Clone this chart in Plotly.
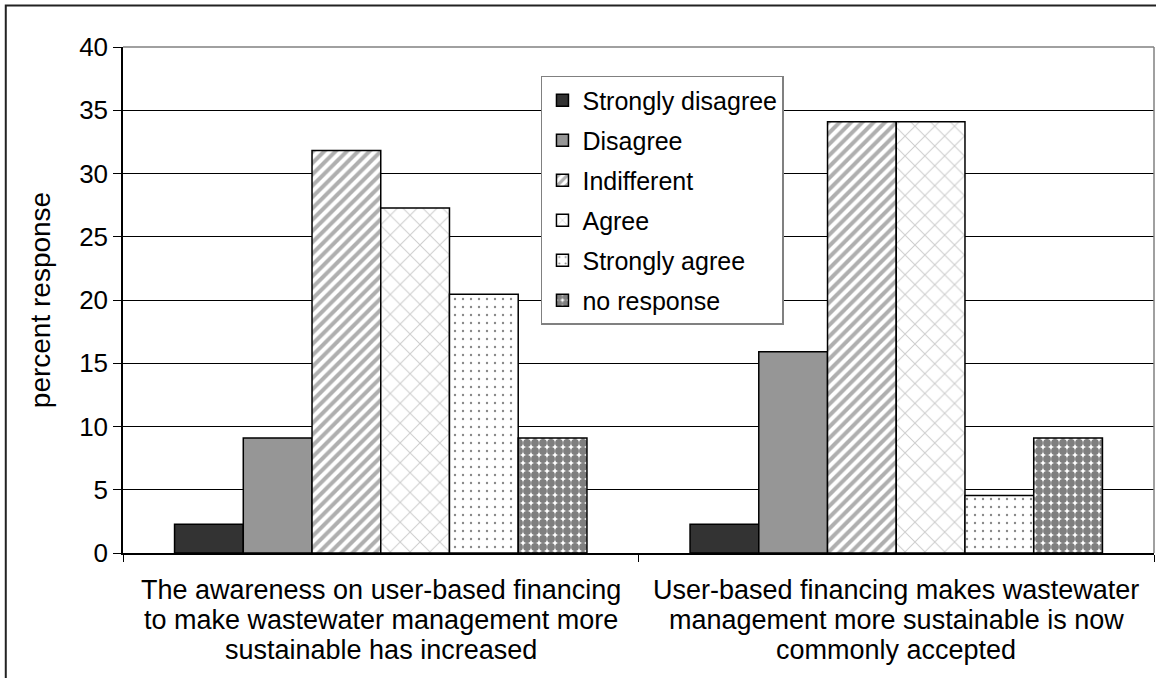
import plotly.graph_objects as go

# Survey statements (x categories) and the wrapped lines shown under each group
statements = [
    "The awareness on user-based financing to make wastewater management more sustainable has increased",
    "User-based financing makes wastewater management more sustainable is now commonly accepted",
]
statement_lines = [
    ["The awareness on user-based financing", "to make wastewater management more", "sustainable has increased"],
    ["User-based financing makes wastewater", "management more sustainable is now", "commonly accepted"],
]

# Percent response per answer option
strongly_disagree = [2.27, 2.27]
disagree = [9.09, 15.91]
indifferent = [31.82, 34.09]
agree = [27.27, 34.09]
strongly_agree = [20.45, 4.55]
no_response = [9.09, 9.09]

y_ticks = [0, 5, 10, 15, 20, 25, 30, 35, 40]

FONT = "Arial, Liberation Sans, sans-serif"

series = [
    ("Strongly disagree", strongly_disagree, dict(color="#333333")),
    ("Disagree", disagree, dict(color="#969696")),
    ("Indifferent", indifferent, dict(color="white",
        pattern=dict(shape="/", fgcolor="#5f5f5f", bgcolor="white", size=8, solidity=0.5))),
    ("Agree", agree, dict(color="white",
        pattern=dict(shape="x", fgcolor="#9a9a9a", bgcolor="white", size=14, solidity=0.14))),
    ("Strongly agree", strongly_agree, dict(color="white",
        pattern=dict(shape=".", fgcolor="#111111", bgcolor="white", size=8, solidity=0.07))),
    ("no response", no_response, dict(color="white",
        pattern=dict(shape=".", fgcolor="#000000", bgcolor="white", size=8, solidity=0.75))),
]

fig = go.Figure()
for i, (name, vals, marker) in enumerate(series):
    marker = dict(marker)
    marker["line"] = dict(color="black", width=1.5)
    fig.add_trace(go.Bar(name=name, x=statements, y=vals, marker=marker,
                         legendgroup=f"g{i}"))

annotations = []
for cat, lines in zip(statements, statement_lines):
    for k, line in enumerate(lines):
        annotations.append(dict(
            x=cat, xref="x", y=0, yref="paper", text=line, showarrow=False,
            xanchor="center", yanchor="middle", yshift=-37 - 30 * k,
            font=dict(family=FONT, size=27, color="black"),
        ))

fig.update_layout(
    width=1156, height=678,
    margin=dict(l=123, r=2, t=47, b=125),
    paper_bgcolor="white", plot_bgcolor="white",
    barmode="group", bargap=0.2, bargroupgap=0,
    font=dict(family=FONT, size=26, color="black"),
    showlegend=True,
    legend=dict(
        x=0.4054, y=0.9427, xanchor="left", yanchor="top",
        bgcolor="white", bordercolor="#808080", borderwidth=1.5,
        font=dict(family=FONT, size=25, color="black"),
        tracegroupgap=4.5, traceorder="grouped",
    ),
    annotations=annotations,
    shapes=[
        # outer chart frame
        dict(type="rect", xref="paper", yref="paper", x0=-0.1137, x1=1.3,
             y0=-0.6, y1=1.0822, line=dict(color="#222222", width=2), layer="above"),
        # plot-area border (top and right)
        dict(type="line", xref="paper", yref="paper", x0=0, x1=1, y0=1, y1=1,
             line=dict(color="#808080", width=1.5), layer="above"),
        dict(type="line", xref="paper", yref="paper", x0=1, x1=1, y0=0, y1=1,
             line=dict(color="#808080", width=1.5), layer="above"),
    ],
)

fig.update_xaxes(
    showticklabels=False, showline=True, linecolor="black", linewidth=1.5,
    ticks="outside", tickson="boundaries", ticklen=7, tickcolor="black",
    showgrid=False,
)
fig.update_yaxes(
    range=[0, 40], tickvals=y_ticks, ticks="outside", ticklen=8,
    tickcolor="black", showline=True, linecolor="black", linewidth=1.5,
    showgrid=True, gridcolor="black", gridwidth=1, zeroline=False,
    tickfont=dict(family=FONT, size=26, color="black"),
    title=dict(text="percent response", standoff=20,
               font=dict(family=FONT, size=28, color="black")),
)

fig.write_html("out.html")
